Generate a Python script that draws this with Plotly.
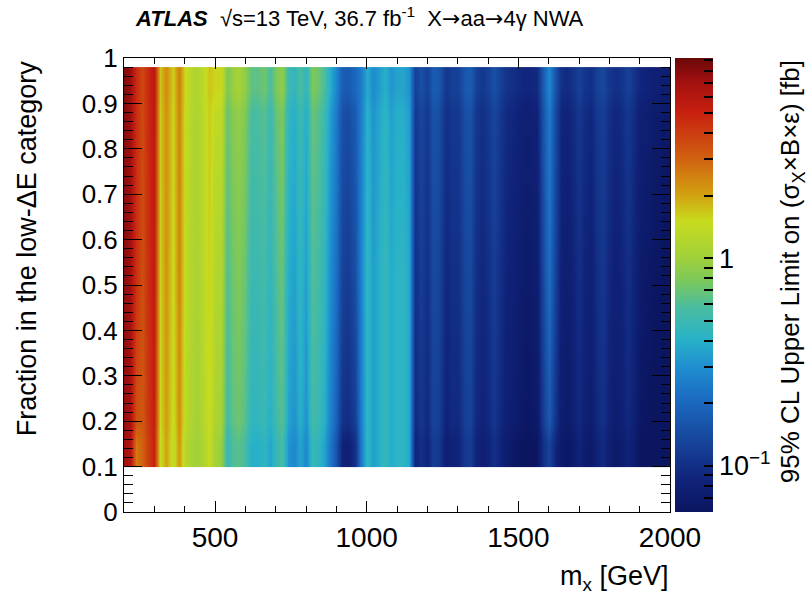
import math
import plotly.graph_objects as go

# ---------------- data ----------------
masses = list(range(200, 2001, 20))  # m_X [GeV]
fraction_edges = [0.1, 0.2, 0.88, 0.98]  # rows: low, mid, high fraction

limit_low_frac = [7.2, 6.3, 2.6, 3.0, 4.0, 5.0, 1.45, 2.0, 1.35, 2.15,
                  1.25, 1.1, 1.0, 1.15, 1.45, 1.05, 0.95, 0.48, 0.6, 0.64,
                  0.56, 0.4, 0.4, 0.44, 0.36, 0.48, 0.56, 0.32, 0.28, 0.36,
                  0.28, 0.48, 0.44, 0.36, 0.24, 0.16, 0.085, 0.08, 0.1, 0.25,
                  0.45, 0.34, 0.4, 0.47, 0.38, 0.43, 0.43, 0.37, 0.085, 0.1,
                  0.085, 0.12, 0.11, 0.077, 0.085, 0.085, 0.11, 0.12, 0.085, 0.077,
                  0.085, 0.1, 0.085, 0.072, 0.068, 0.064, 0.06, 0.06, 0.064, 0.1,
                  0.13, 0.09, 0.068, 0.064, 0.072, 0.085, 0.072, 0.068, 0.085, 0.093,
                  0.077, 0.068, 0.072, 0.085, 0.072, 0.06, 0.058, 0.055, 0.054, 0.051,
                  0.051]

limit_mid_frac = [8.0, 7.0, 4.5, 3.5, 4.5, 5.5, 1.6, 2.2, 1.5, 2.4,
                  1.4, 1.2, 1.1, 1.3, 1.6, 1.2, 1.2, 0.6, 0.75, 0.8,
                  0.7, 0.5, 0.5, 0.55, 0.45, 0.6, 0.7, 0.4, 0.35, 0.45,
                  0.35, 0.6, 0.55, 0.45, 0.3, 0.22, 0.13, 0.12, 0.15, 0.27,
                  0.45, 0.34, 0.4, 0.47, 0.38, 0.43, 0.43, 0.37, 0.1, 0.12,
                  0.1, 0.14, 0.13, 0.09, 0.1, 0.1, 0.13, 0.14, 0.1, 0.09,
                  0.1, 0.12, 0.1, 0.085, 0.08, 0.075, 0.07, 0.07, 0.075, 0.14,
                  0.22, 0.13, 0.08, 0.075, 0.085, 0.1, 0.085, 0.08, 0.1, 0.11,
                  0.09, 0.08, 0.085, 0.1, 0.085, 0.07, 0.068, 0.065, 0.063, 0.06,
                  0.06]

limit_high_frac = [8.4, 7.3, 4.7, 3.7, 4.7, 5.8, 1.7, 2.3, 1.6, 2.5,
                   1.5, 1.25, 1.15, 1.35, 1.7, 1.55, 1.55, 0.78, 0.98, 1.05,
                   0.9, 0.65, 0.65, 0.72, 0.58, 0.78, 0.9, 0.52, 0.45, 0.58,
                   0.45, 0.78, 0.72, 0.58, 0.39, 0.28, 0.18, 0.17, 0.2, 0.25,
                   0.38, 0.29, 0.34, 0.4, 0.32, 0.36, 0.36, 0.31, 0.125, 0.15,
                   0.125, 0.175, 0.16, 0.11, 0.125, 0.125, 0.16, 0.175, 0.125, 0.11,
                   0.125, 0.15, 0.125, 0.105, 0.1, 0.094, 0.088, 0.088, 0.094, 0.175,
                   0.28, 0.16, 0.1, 0.094, 0.105, 0.125, 0.105, 0.1, 0.125, 0.135,
                   0.11, 0.1, 0.105, 0.125, 0.105, 0.088, 0.085, 0.08, 0.078, 0.075,
                   0.075]

z_min, z_max = 0.06, 9.2
cbar_major = [0.1, 1]
cbar_major_text = ["10<sup>\u22121</sup>", "1"]
cbar_minor = [0.07, 0.08, 0.09, 0.2, 0.3, 0.4, 0.5, 0.6, 0.7, 0.8, 0.9,
              2, 3, 4, 5, 6, 7, 8, 9]

# ---------------- figure ----------------
FONT = "Liberation Sans, Arial, Helvetica, sans-serif"

colorscale = [
    [0.00, "#0b1560"], [0.07, "#10237a"], [0.14, "#163e95"], [0.25, "#1b6cc2"],
    [0.32, "#1f8ed0"], [0.38, "#28b2c8"], [0.45, "#4abca0"], [0.51, "#7cc85a"],
    [0.56, "#a0d03a"], [0.64, "#c8dc1e"], [0.70, "#d2a010"], [0.78, "#d06010"],
    [0.88, "#c82010"], [0.95, "#a01010"], [1.00, "#6a0808"],
]

z = [[math.log10(v) for v in row]
     for row in (limit_low_frac, limit_mid_frac, limit_high_frac)]

tick_vals = cbar_major + cbar_minor
tick_text = cbar_major_text + [""] * len(cbar_minor)

fig = go.Figure(go.Heatmap(
    x=masses, y=fraction_edges, z=z,
    zmin=math.log10(z_min), zmax=math.log10(z_max),
    colorscale=colorscale, zsmooth="best",
    colorbar=dict(
        x=1.009, xanchor="left", xpad=0, y=0.5, yanchor="middle", len=1, ypad=0,
        thickness=38, outlinewidth=0,
        tickvals=[math.log10(v) for v in tick_vals], ticktext=tick_text,
        ticks="inside", ticklen=9, tickcolor="black", tickwidth=1.5,
        tickfont=dict(family=FONT, size=27, color="black"),
    ),
    hovertemplate="m=%{x}<br>f=%{y}<extra></extra>",
))

fig.update_xaxes(
    range=[200, 2000], tickvals=[500, 1000, 1500, 2000],
    ticks="inside", ticklen=11, tickwidth=1, tickcolor="black",
    minor=dict(dtick=100, tick0=0, ticks="inside", ticklen=6, tickcolor="black"),
    showline=True, linecolor="black", linewidth=1, mirror="ticks",
    showgrid=False, zeroline=False,
    tickfont=dict(family=FONT, size=28, color="black"),
)
fig.update_yaxes(
    range=[0, 1], tick0=0, dtick=0.1,
    ticks="inside", ticklen=18, tickwidth=1, tickcolor="black",
    minor=dict(dtick=0.02, tick0=0, ticks="inside", ticklen=9, tickcolor="black"),
    showline=True, linecolor="black", linewidth=1, mirror="ticks",
    showgrid=False, zeroline=False,
    tickfont=dict(family=FONT, size=26, color="black"),
)

ARROW = '<span style="font-family:DejaVu Sans">\u2192</span>'
annotations = [
    dict(text="<b><i>ATLAS</i></b>  \u221As=13 TeV, 36.7 fb<sup>-1</sup>  X" + ARROW + "aa" + ARROW + "4\u03b3 NWA",
         xref="paper", yref="paper", x=0.016, y=1.09, xanchor="left", yanchor="middle",
         showarrow=False, font=dict(family=FONT, size=22, color="black")),
    dict(text="Fraction in the low-\u0394E category",
         xref="paper", yref="paper", x=-0.177, y=1.0, xanchor="center", yanchor="top",
         textangle=-90, showarrow=False, font=dict(family=FONT, size=27, color="black")),
    dict(text="m<sub>x</sub> [GeV]",
         xref="paper", yref="paper", x=1.0, y=-0.145, xanchor="right", yanchor="middle",
         showarrow=False, font=dict(family=FONT, size=27, color="black")),
    dict(text="95% CL Upper Limit on (\u03c3<sub>X</sub>\u00d7B\u00d7\u03b5) [fb]",
         xref="paper", yref="paper", x=1.223, y=1.0, xanchor="center", yanchor="top",
         textangle=-90, showarrow=False, font=dict(family=FONT, size=26, color="black")),
]

fig.update_layout(
    width=812, height=595,
    margin=dict(l=124, r=142, t=58, b=83),
    paper_bgcolor="white", plot_bgcolor="white",
    font=dict(family=FONT, color="black"),
    annotations=annotations,
    showlegend=False,
)

fig.write_html("out.html")
